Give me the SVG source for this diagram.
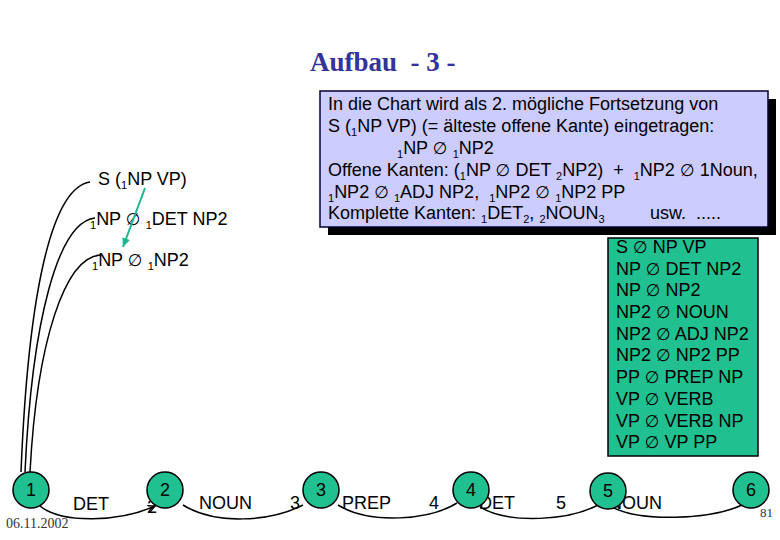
<svg xmlns="http://www.w3.org/2000/svg" width="780" height="540" viewBox="0 0 780 540">
<style>
text{font-family:"Liberation Sans",Arial,sans-serif;font-size:18px;fill:#000}
.sub{font-size:11px}
.e{font-family:"DejaVu Sans",sans-serif;font-size:17px;font-weight:normal}
.title{font-family:"Liberation Serif","Times New Roman",serif;font-weight:bold;font-size:27px;fill:#333399}
.foot{font-family:"Liberation Serif","Times New Roman",serif;font-size:14px;fill:#333}
.node circle{fill:#20c090;stroke:#000;stroke-width:1.5}
.nl{text-anchor:middle}
.edge{fill:none;stroke:#000;stroke-width:1.5}
</style>
<defs>
<marker id="ah" markerWidth="8" markerHeight="8" refX="7" refY="4" orient="auto" markerUnits="userSpaceOnUse">
<path d="M0,0.5 L7,4 L0,7.5" fill="none" stroke="#000" stroke-width="1.3"/>
</marker>
<marker id="gh" markerWidth="10" markerHeight="10" refX="9" refY="5" orient="auto" markerUnits="userSpaceOnUse">
<path d="M0,1 L9,5 L0,9 Z" fill="#1fb58f"/>
</marker>
</defs>
<rect width="780" height="540" fill="#fff"/>
<text class="title" x="310" y="71">Aufbau&#160; - 3 -</text>

<g id="labels">
<text x="98" y="185">S (<tspan class="sub" dy="4">1</tspan><tspan dy="-4">NP VP)</tspan></text>
<text x="90" y="225"><tspan class="sub" dy="4">1</tspan><tspan dy="-4">NP </tspan><tspan class="e">∅</tspan> <tspan class="sub" dy="4">1</tspan><tspan dy="-4">DET NP2</tspan></text>
<text x="92" y="266"><tspan class="sub" dy="4">1</tspan><tspan dy="-4">NP </tspan><tspan class="e">∅</tspan> <tspan class="sub" dy="4">1</tspan><tspan dy="-4">NP2</tspan></text>
<line x1="145" y1="188" x2="123" y2="247" stroke="#1fb58f" stroke-width="2" marker-end="url(#gh)"/>
</g>

<g id="connectors">
<path class="edge" d="M90,182 C50,188 28,300 21,472"/>
<path class="edge" d="M95,218 C58,222 32,320 25,472"/>
<path class="edge" d="M100,255 C65,258 37,340 30,472"/>
<path class="edge" d="M40,506 C62,524 120,522 155,506" marker-end="url(#ah)"/>
<path class="edge" d="M183,505 C215,525 270,522 303,505"/>
<path class="edge" d="M338,505 C370,525 430,520 457,503"/>
<path class="edge" d="M480,507 C510,525 570,520 598,505"/>
<path class="edge" d="M612,507 C640,522 710,520 742,505"/>
</g>

<g id="edge-labels">
<text x="73" y="510">DET</text>
<text x="147" y="513">2</text>
<text x="199" y="509">NOUN</text>
<text x="290" y="509">3</text>
<text x="342" y="509">PREP</text>
<text x="429" y="509">4</text>
<text x="479" y="509">DET</text>
<text x="556" y="509">5</text>
<text x="609" y="509">NOUN</text>
</g>

<g id="node1" class="node"><circle cx="31" cy="490" r="18"/><text class="nl" x="31" y="496">1</text></g>
<g id="node2" class="node"><circle cx="165" cy="490" r="18"/><text class="nl" x="165" y="496">2</text></g>
<g id="node3" class="node"><circle cx="321" cy="490" r="18"/><text class="nl" x="321" y="496">3</text></g>
<g id="node4" class="node"><circle cx="471" cy="490" r="18"/><text class="nl" x="471" y="496">4</text></g>
<g id="node5" class="node"><circle cx="608" cy="491" r="18"/><text class="nl" x="608" y="497">5</text></g>
<g id="node6" class="node"><circle cx="751" cy="490" r="18"/><text class="nl" x="751" y="496">6</text></g>

<g id="grammar">
<rect x="608" y="238" width="150" height="218" fill="#20c090" stroke="#000" stroke-width="1.5"/>
<text x="616" y="253">S <tspan class="e">∅</tspan> NP VP</text>
<text x="616" y="275">NP <tspan class="e">∅</tspan> DET NP2</text>
<text x="616" y="296">NP <tspan class="e">∅</tspan> NP2</text>
<text x="616" y="318">NP2 <tspan class="e">∅</tspan> NOUN</text>
<text x="616" y="340">NP2 <tspan class="e">∅</tspan> ADJ NP2</text>
<text x="616" y="361">NP2 <tspan class="e">∅</tspan> NP2 PP</text>
<text x="616" y="383">PP <tspan class="e">∅</tspan> PREP NP</text>
<text x="616" y="405">VP <tspan class="e">∅</tspan> VERB</text>
<text x="616" y="427">VP <tspan class="e">∅</tspan> VERB NP</text>
<text x="616" y="448">VP <tspan class="e">∅</tspan> VP PP</text>
</g>

<g id="callout">
<rect x="328" y="99" width="448" height="136" fill="#000"/>
<rect x="320" y="91" width="448" height="136" fill="#ccccff" stroke="#000033" stroke-width="1.5"/>
<text x="328" y="110">In die Chart wird als 2. mögliche Fortsetzung von</text>
<text x="328" y="132">S (<tspan class="sub" dy="4">1</tspan><tspan dy="-4">NP VP) (= älteste offene Kante) eingetragen:</tspan></text>
<text x="397" y="154"><tspan class="sub" dy="4">1</tspan><tspan dy="-4">NP </tspan><tspan class="e">∅</tspan> <tspan class="sub" dy="4">1</tspan><tspan dy="-4">NP2</tspan></text>
<text x="328" y="176">Offene Kanten: (<tspan class="sub" dy="4">1</tspan><tspan dy="-4">NP </tspan><tspan class="e">∅</tspan> DET <tspan class="sub" dy="4">2</tspan><tspan dy="-4">NP2)&#160; +&#160; </tspan><tspan class="sub" dy="4">1</tspan><tspan dy="-4">NP2 </tspan><tspan class="e">∅</tspan> 1Noun,</text>
<text x="328" y="198"><tspan class="sub" dy="4">1</tspan><tspan dy="-4">NP2 </tspan><tspan class="e">∅</tspan> <tspan class="sub" dy="4">1</tspan><tspan dy="-4">ADJ NP2,&#160; </tspan><tspan class="sub" dy="4">1</tspan><tspan dy="-4">NP2 </tspan><tspan class="e">∅</tspan> <tspan class="sub" dy="4">1</tspan><tspan dy="-4">NP2 PP</tspan></text>
<text x="328" y="219">Komplette Kanten: <tspan class="sub" dy="4">1</tspan><tspan dy="-4">DET</tspan><tspan class="sub" dy="4">2</tspan><tspan dy="-4">, </tspan><tspan class="sub" dy="4">2</tspan><tspan dy="-4">NOUN</tspan><tspan class="sub" dy="4">3</tspan><tspan dy="-4" x="650">usw.&#160; .....</tspan></text>
</g>

<text class="foot" x="6" y="528">06.11.2002</text>
<text class="foot" x="760" y="517" style="font-size:13px">81</text>
</svg>
